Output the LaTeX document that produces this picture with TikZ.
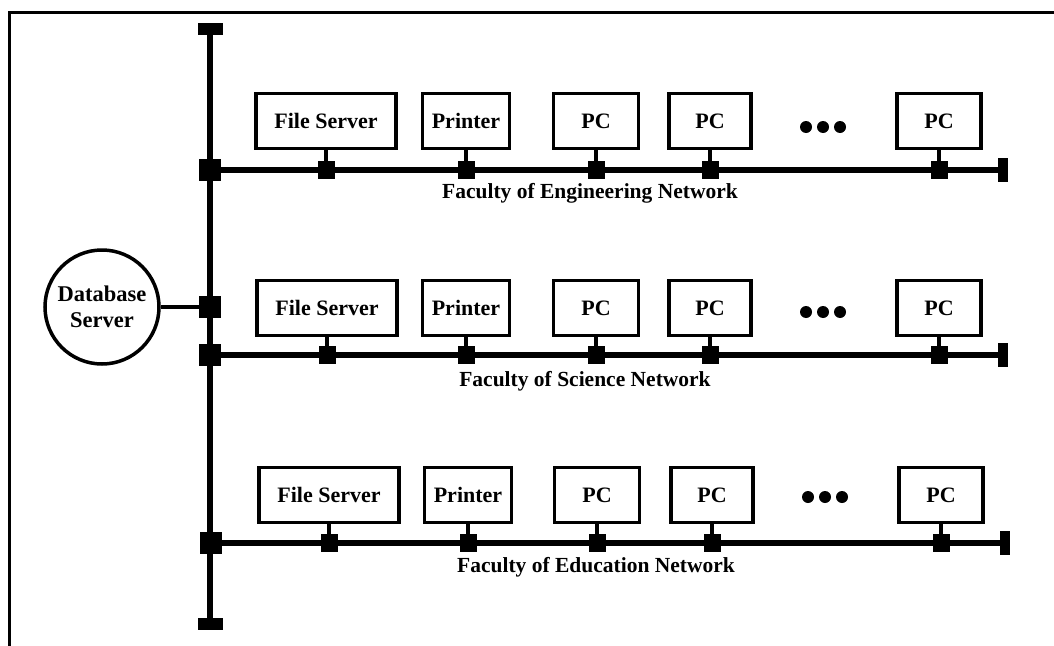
\documentclass[tikz,border=0pt]{standalone}
\usepackage{fontspec}
\setmainfont{Liberation Serif}
\usepackage{tikz}

\begin{document}
\begin{tikzpicture}[x=1pt, y=-1pt,
  unit/.style={draw, line width=3.5pt, minimum height=55pt, inner sep=0pt, font=\bfseries\fontsize{22}{24}\selectfont},
  tap/.style={fill, inner sep=0pt, minimum width=17pt, minimum height=18pt},
  joint/.style={fill, inner sep=0pt, minimum size=22pt},
  endcap/.style={fill, inner sep=0pt, minimum width=10pt, minimum height=24pt},
  backcap/.style={fill, inner sep=0pt, minimum width=25pt, minimum height=12pt},
  bus/.style={line width=5.5pt},
  drop/.style={line width=3.5pt},
  netname/.style={font=\bfseries\fontsize{21.5}{24}\selectfont}]
\useasboundingbox (0,0) rectangle (1054,645);
% outer frame
\draw[line width=3pt] (9,650) -- (9,12) -- (1060,12);

% backbone
\node (bt) at (210,29) [backcap] {};
\node (bb) at (210,624) [backcap] {};
\node (ej) at (210,170) [joint] {};
\node (dj) at (210,307) [joint] {};
\node (sj) at (210,355) [joint] {};
\node (uj) at (211,543) [joint] {};
\draw[line width=6pt] (bt) -- (bb);

% database server
\node (db) at (102,307) [circle, draw, line width=3.5pt, minimum size=114pt, align=center, font=\bfseries\fontsize{22.5}{26}\selectfont] {Database\\Server};
\draw[drop] (db) -- (dj);

% engineering
\node (ee) at (1003,170) [endcap] {};
\draw[bus] (ej) -- (ee);
\node (e1) at (326,121) [unit, minimum width=140pt] {File Server};
\node (e2) at (466,121) [unit, minimum width=87pt] {Printer};
\node (e3) at (596,121) [unit, minimum width=85pt] {PC};
\node (e4) at (710,121) [unit, minimum width=82pt] {PC};
\node (e5) at (939,121) [unit, minimum width=84pt] {PC};
\node (e1t) at (326,170) [tap] {};
\node (e2t) at (466,170) [tap] {};
\node (e3t) at (596,170) [tap] {};
\node (e4t) at (710,170) [tap] {};
\node (e5t) at (939,170) [tap] {};
\draw[drop] (e1) -- (e1t);
\draw[drop] (e2) -- (e2t);
\draw[drop] (e3) -- (e3t);
\draw[drop] (e4) -- (e4t);
\draw[drop] (e5) -- (e5t);
\fill (806,127) circle (6pt) (823,127) circle (6pt) (840,127) circle (6pt);
\node (en) at (590,193) [netname] {Faculty of Engineering Network};

% science
\node (se) at (1003,355) [endcap] {};
\draw[bus] (sj) -- (se);
\node (s1) at (327,308) [unit, minimum width=140pt] {File Server};
\node (s2) at (466,308) [unit, minimum width=87pt] {Printer};
\node (s3) at (596,308) [unit, minimum width=85pt] {PC};
\node (s4) at (710,308) [unit, minimum width=82pt] {PC};
\node (s5) at (939,308) [unit, minimum width=84pt] {PC};
\node (s1t) at (327,355) [tap] {};
\node (s2t) at (466,355) [tap] {};
\node (s3t) at (596,355) [tap] {};
\node (s4t) at (710,355) [tap] {};
\node (s5t) at (939,355) [tap] {};
\draw[drop] (s1) -- (s1t);
\draw[drop] (s2) -- (s2t);
\draw[drop] (s3) -- (s3t);
\draw[drop] (s4) -- (s4t);
\draw[drop] (s5) -- (s5t);
\fill (806,312) circle (6pt) (823,312) circle (6pt) (840,312) circle (6pt);
\node (sn) at (585,381) [netname] {Faculty of Science Network};

% education
\node (ue) at (1005,543) [endcap] {};
\draw[bus] (uj) -- (ue);
\node (u1) at (329,495) [unit, minimum width=140pt] {File Server};
\node (u2) at (468,495) [unit, minimum width=87pt] {Printer};
\node (u3) at (597,495) [unit, minimum width=85pt] {PC};
\node (u4) at (712,495) [unit, minimum width=82pt] {PC};
\node (u5) at (941,495) [unit, minimum width=84pt] {PC};
\node (u1t) at (329,543) [tap] {};
\node (u2t) at (468,543) [tap] {};
\node (u3t) at (597,543) [tap] {};
\node (u4t) at (712,543) [tap] {};
\node (u5t) at (941,543) [tap] {};
\draw[drop] (u1) -- (u1t);
\draw[drop] (u2) -- (u2t);
\draw[drop] (u3) -- (u3t);
\draw[drop] (u4) -- (u4t);
\draw[drop] (u5) -- (u5t);
\fill (808,497) circle (6pt) (825,497) circle (6pt) (842,497) circle (6pt);
\node (un) at (596,567) [netname] {Faculty of Education Network};
\end{tikzpicture}
\end{document}
